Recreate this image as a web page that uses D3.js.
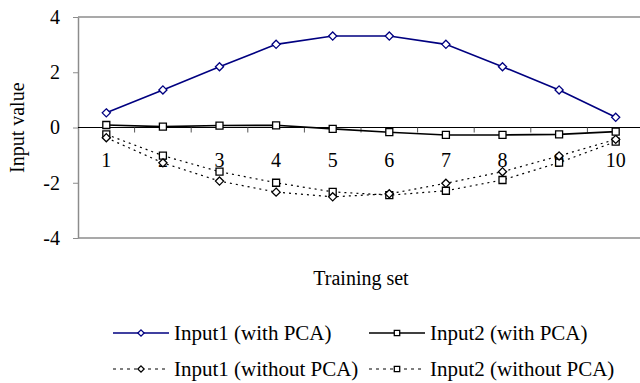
<!DOCTYPE html>
<html>
<head>
<meta charset="utf-8">
<script src="https://cdn.jsdelivr.net/npm/d3@7"></script>
<style>
  body { margin: 0; background: #fff; }
  svg text { font-family: "Times New Roman", Times, "Liberation Serif", serif !important; }
</style>
</head>
<body>
<div id="viz"></div>
<script>
var width = 640;
var height = 383;

// data
var sets = [1, 2, 3, 4, 5, 6, 7, 8, 9, 10];
var input1Pca = [0.53, 1.36, 2.2, 3.01, 3.31, 3.31, 3.01, 2.2, 1.36, 0.37];
var input2Pca = [0.09, 0.03, 0.07, 0.08, -0.05, -0.17, -0.27, -0.27, -0.25, -0.15];
var input1NoPca = [-0.37, -1.28, -1.94, -2.34, -2.51, -2.4, -2.02, -1.6, -1.03, -0.43];
var input2NoPca = [-0.25, -1.02, -1.6, -2.0, -2.33, -2.45, -2.29, -1.9, -1.27, -0.51];
var yTicks = [-4, -2, 0, 2, 4];

var series = [
    {name: "Input1 (with PCA)", values: input1Pca, color: "#000080", dash: null, shape: d3.symbolDiamond2, size: 42},
    {name: "Input2 (with PCA)", values: input2Pca, color: "#000", dash: null, shape: d3.symbolSquare, size: 49},
    {name: "Input1 (without PCA)", values: input1NoPca, color: "#000", dash: "2,4", shape: d3.symbolDiamond2, size: 42},
    {name: "Input2 (without PCA)", values: input2NoPca, color: "#000", dash: "2,4", shape: d3.symbolSquare, size: 49}
];

var plotLeft = 78, plotRight = 644, plotTop = 17, plotBottom = 238;

var x = d3.scaleBand().domain(sets).range([plotLeft, plotRight]);
var y = d3.scaleLinear().domain([-4, 4]).range([plotBottom, plotTop]);

var svg = d3.select("#viz").append("svg").attr("width", width).attr("height", height);

// frame lines top and bottom
svg.append("line").attr("x1", plotLeft).attr("x2", width).attr("y1", y(4)).attr("y2", y(4))
    .attr("stroke", "#8c8c8c").attr("stroke-width", 1.5);
svg.append("line").attr("x1", plotLeft).attr("x2", width).attr("y1", y(-4)).attr("y2", y(-4))
    .attr("stroke", "#8c8c8c").attr("stroke-width", 1.5);

// y axis
var yAxis = svg.append("g")
    .attr("transform", "translate(" + plotLeft + ",0)")
    .call(d3.axisLeft(y).tickValues(yTicks).tickFormat(String).tickSize(5).tickPadding(13).tickSizeOuter(0));
yAxis.attr("font-family", null).attr("font-size", null);
yAxis.select(".domain").attr("stroke", "#8c8c8c").attr("stroke-width", 1.5);
yAxis.selectAll(".tick line").attr("stroke", "#8c8c8c");
yAxis.selectAll("text").style("font-size", "20px");

// x axis through zero
svg.append("line").attr("x1", plotLeft).attr("x2", width).attr("y1", y(0)).attr("y2", y(0))
    .attr("stroke", "#000").attr("stroke-width", 1.2);
svg.append("g").selectAll("line")
    .data(sets.slice(1))
    .enter()
    .append("line")
    .attr("x1", function (d) { return x(d); })
    .attr("x2", function (d) { return x(d); })
    .attr("y1", y(0))
    .attr("y2", y(0) + 5)
    .attr("stroke", "#555");

var xAxis = svg.append("g")
    .attr("transform", "translate(0," + y(0) + ")")
    .call(d3.axisBottom(x).tickSize(0).tickPadding(25));
xAxis.attr("font-family", null).attr("font-size", null);
xAxis.select(".domain").remove();
xAxis.selectAll("text").style("font-size", "20px");

// titles (y title is cut off at the top in the original)
svg.append("clipPath").attr("id", "ytclip")
    .append("rect").attr("x", 0).attr("y", 82).attr("width", 40).attr("height", 150);
svg.append("g").attr("clip-path", "url(#ytclip)")
    .append("text")
    .attr("transform", "translate(24,173) rotate(-90)")
    .style("font-size", "20px")
    .text("Input value");

svg.append("text")
    .attr("x", 361)
    .attr("y", 285)
    .attr("text-anchor", "middle")
    .style("font-size", "20px")
    .text("Training set");

// series
var line = d3.line()
    .x(function (d, i) { return x(sets[i]) + x.bandwidth() / 2; })
    .y(function (d) { return y(d); });

series.slice().reverse().forEach(function (s) {
    svg.append("path")
        .datum(s.values)
        .attr("d", line)
        .attr("fill", "none")
        .attr("stroke", s.color)
        .attr("stroke-width", s.dash ? 1.2 : 1.6)
        .attr("stroke-dasharray", s.dash);
    svg.append("g").selectAll("path")
        .data(s.values)
        .enter()
        .append("path")
        .attr("d", d3.symbol().type(s.shape).size(s.size))
        .attr("transform", function (d, i) {
            return "translate(" + (x(sets[i]) + x.bandwidth() / 2) + "," + y(d) + ")";
        })
        .attr("fill", "#fff")
        .attr("stroke", s.color)
        .attr("stroke-width", 1.3);
});

// legend
var legendCols = [113, 369];
var legendRows = [333, 369];
series.forEach(function (s, i) {
    var lx = legendCols[i % 2];
    var ly = legendRows[Math.floor(i / 2)];
    var g = svg.append("g").attr("transform", "translate(" + lx + "," + ly + ")");
    g.append("line").attr("x1", 0).attr("x2", 56).attr("y1", 0).attr("y2", 0)
        .attr("stroke", s.color)
        .attr("stroke-width", s.dash ? 1.2 : 1.6)
        .attr("stroke-dasharray", s.dash ? "3,4" : null);
    g.append("path")
        .attr("d", d3.symbol().type(s.shape).size(s.size * 0.6))
        .attr("transform", "translate(28,0)")
        .attr("fill", "#fff")
        .attr("stroke", s.color)
        .attr("stroke-width", 1.3);
    g.append("text")
        .attr("x", 61)
        .attr("y", 7)
        .style("font-size", "21px")
        .text(s.name);
});
</script>
</body>
</html>
